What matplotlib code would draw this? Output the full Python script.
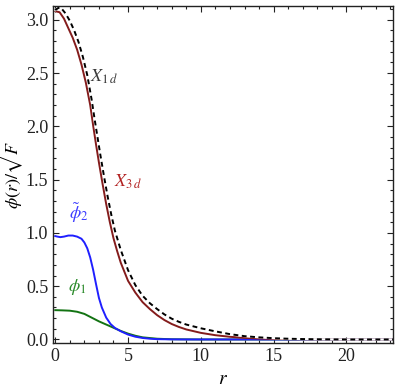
import matplotlib
matplotlib.use("Agg")
import matplotlib.pyplot as plt
from matplotlib.ticker import MultipleLocator, FormatStrFormatter

plt.rcParams['font.family'] = ['Liberation Serif', 'DejaVu Serif']
plt.rcParams['mathtext.fontset'] = 'stix'

# X_{3d} (dark red)
r_x3 = [0, 0.3, 0.6, 0.9, 1.2, 1.5, 1.8, 2.1, 2.4, 2.6, 2.8, 3.0, 3.25, 3.5, 3.75, 4.0, 4.25, 4.5,
        5.0, 5.5, 6.0, 6.5, 7.0, 7.5, 8.0, 8.5, 9.0, 10, 11, 12, 13, 14, 15, 16, 18, 20, 23.3]
v_x3 = [3.08, 3.07, 3.01, 2.92, 2.83, 2.72, 2.58, 2.41, 2.20, 2.01, 1.83, 1.66, 1.46, 1.27, 1.10, 0.95, 0.83, 0.72,
        0.55, 0.44, 0.35, 0.285, 0.228, 0.182, 0.145, 0.117, 0.094, 0.062, 0.040, 0.025, 0.015, 0.009, 0.005, 0.003, 0.001, 0.0, 0.0]

# X_{1d} (black dashed)
r_x1 = [0, 0.2, 0.4, 0.7, 1.0, 1.3, 1.6, 1.9, 2.2, 2.5, 2.7, 2.9, 3.1, 3.35, 3.6, 3.85, 4.1, 4.5,
        5.0, 5.5, 6.0, 6.5, 7.0, 7.5, 8.0, 8.5, 9.0, 10, 11, 12, 13, 14, 15, 16, 17, 18, 20, 23.3]
v_x1 = [3.09, 3.11, 3.11, 3.06, 2.99, 2.90, 2.79, 2.65, 2.48, 2.25, 2.07, 1.90, 1.73, 1.53, 1.34, 1.17, 1.02, 0.84,
        0.65, 0.51, 0.41, 0.34, 0.285, 0.235, 0.195, 0.165, 0.14, 0.105, 0.076, 0.05, 0.031, 0.02, 0.012, 0.007, 0.004, 0.002, 0.0, 0.0]

# tilde phi_2 (blue)
r_p2 = [0, 0.15, 0.35, 0.6, 0.9, 1.2, 1.5, 1.8, 2.0, 2.2, 2.4, 2.6, 2.8, 3.0, 3.2, 3.5, 3.8,
        4.1, 4.5, 5.0, 5.5, 6.0, 6.5, 7.0, 8.0, 9.0, 23.3]
v_p2 = [0.97, 0.965, 0.96, 0.965, 0.975, 0.975, 0.965, 0.945, 0.91, 0.855, 0.77, 0.655, 0.52, 0.39, 0.30, 0.205, 0.145,
        0.108, 0.077, 0.046, 0.026, 0.014, 0.007, 0.003, 0.001, 0.0, 0.0]

# phi_1 (green)
r_p1 = [0, 0.5, 1.0, 1.5, 2.0, 2.5, 3.0, 3.5, 4.0, 4.5, 5.0, 5.5, 6.0, 7.0, 8.0, 10.0, 23.3]
v_p1 = [0.275, 0.273, 0.27, 0.26, 0.24, 0.205, 0.17, 0.14, 0.11, 0.08, 0.055, 0.035, 0.02, 0.007, 0.002, 0.0, 0.0]

fig = plt.figure(figsize=(3.99, 3.90), dpi=100)
ax = fig.add_axes([0.133, 0.12, 0.852, 0.865])

ax.plot(r_p1, v_p1, color='#137313', lw=1.4)
ax.plot(r_p2, v_p2, color='#1f1fff', lw=1.4)
ax.plot(r_x3, v_x3, color='#841c1c', lw=1.4)
ax.plot(r_x1, v_x1, color='white', lw=1.6)
ax.plot(r_x1, v_x1, color='black', lw=1.4, linestyle=(0, (2.5, 1.8)))

ax.text(3.35, 2.46, r'$X_{1\,d}$', color='#3a3a3a', fontsize=13, ha='center', va='center')
ax.text(5.0, 1.48, r'$X_{3\,d}$', color='#b22222', fontsize=13, ha='center', va='center')
ax.text(1.6, 1.19, r'$\tilde{\phi}_2$', color='#3c3cff', fontsize=13, ha='center', va='center')
ax.text(1.5, 0.49, r'$\phi_1$', color='#2a8a2a', fontsize=13, ha='center', va='center')

ax.set_xlim(-0.15, 23.2)
ax.set_ylim(-0.035, 3.13)
ax.xaxis.set_major_locator(MultipleLocator(5))
ax.xaxis.set_minor_locator(MultipleLocator(1))
ax.yaxis.set_major_locator(MultipleLocator(0.5))
ax.yaxis.set_minor_locator(MultipleLocator(0.1))
ax.yaxis.set_major_formatter(FormatStrFormatter('%.1f'))
ax.tick_params(which='both', direction='in', top=True, right=True, labelsize=13, colors='#222222', width=0.8)
ax.tick_params(which='major', length=4.5)
ax.tick_params(which='minor', length=2.5)
for s in ax.spines.values():
    s.set_linewidth(1.0)
    s.set_color('#222222')

ax.set_xlabel(r'$r$', fontsize=14, labelpad=4)
ax.set_ylabel(r'$\phi(r)/\sqrt{F}$', fontsize=13)
ax.yaxis.set_label_coords(-0.083, 0.5)

fig.savefig('out.png', dpi=100)
